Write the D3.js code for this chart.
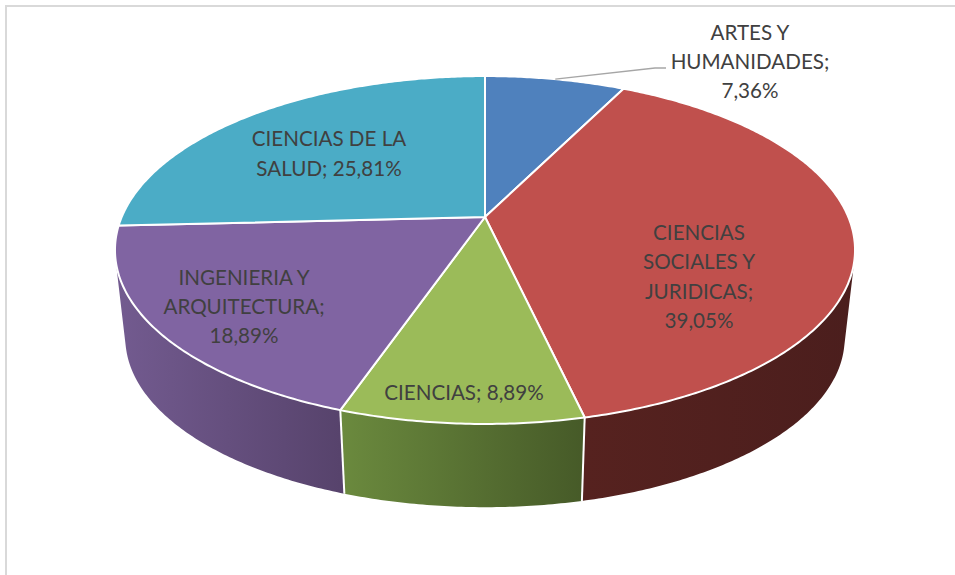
<!DOCTYPE html>
<html>
<head>
<meta charset="utf-8">
<script src="https://cdn.jsdelivr.net/npm/d3@7/dist/d3.min.js"></script>
<style>
html, body { margin: 0; padding: 0; background: #fff; }
svg { display: block; }
text { font-family: Lato, "Open Sans", sans-serif; font-size: 20.6px; fill: #404040; }
</style>
</head>
<body>
<svg id="svg" width="955" height="575"></svg>
<script>
var categories = ["ARTES Y HUMANIDADES", "CIENCIAS SOCIALES Y JURIDICAS", "CIENCIAS", "INGENIERIA Y ARQUITECTURA", "CIENCIAS DE LA SALUD"];
var values = [7.36, 39.05, 8.89, 18.89, 25.81];
var topColors = ["#4f81bd", "#c0504d", "#9bbb59", "#8064a2", "#4bacc6"];
var wallLeft = ["#3a5f8b", "#56221f", "#6b8a3e", "#735b90", "#357c8f"];
var wallRight = ["#2c4768", "#4b1e1d", "#465a28", "#57436c", "#2a6272"];
var labelLines = [
    ["ARTES Y", "HUMANIDADES;", "7,36%"],
    ["CIENCIAS", "SOCIALES Y", "JURIDICAS;", "39,05%"],
    ["CIENCIAS; 8,89%"],
    ["INGENIERIA Y", "ARQUITECTURA;", "18,89%"],
    ["CIENCIAS DE LA", "SALUD; 25,81%"]
];
var labelCenters = [[750, 62], [699, 277], [464, 393], [244, 307], [329, 154]];

var svg = d3.select("#svg");
var center = {x: 485, y: 217};
var A = 363.3, B = 167.7, k = 0.1897;   // perspective of the disc
var depth = 89, bottomScale = 0.972;
var lineGap = 29.4;
var wallOrder = [4, 0, 1, 3, 2];        // back to front

// angle 0 is at the top, clockwise. lower = false is the top face
var project = function (angle, lower) {
    var u = Math.sin(angle), v = -Math.cos(angle);
    var w = 1 - k * v;
    var s = lower ? bottomScale : 1;
    return [
        center.x + s * A * u / w,
        center.y + (lower ? depth : 0) + s * B * v / w
    ];
};

var arcPoints = function (a0, a1, lower) {
    var n = Math.max(2, Math.ceil((a1 - a0) / 0.01));
    return d3.range(n + 1).map(function (i) {
        return project(a0 + (a1 - a0) * i / n, lower);
    });
};

var pie = d3.pie().sort(null).value(function (d) { return d; });
var slices = pie(values);
var line = d3.line();

// chart frame, only top and left are visible in the picture
svg.append("path")
    .attr("d", "M6,575V6H955")
    .attr("fill", "none")
    .attr("stroke", "#d9d9d9")
    .attr("stroke-width", 2);

var defs = svg.append("defs");
slices.forEach(function (d, i) {
    var xs = arcPoints(d.startAngle, d.endAngle, false).map(function (p) { return p[0]; });
    var grad = defs.append("linearGradient")
        .attr("id", "wall" + i)
        .attr("gradientUnits", "userSpaceOnUse")
        .attr("x1", d3.min(xs)).attr("x2", d3.max(xs))
        .attr("y1", 0).attr("y2", 0);
    grad.append("stop").attr("offset", 0).attr("stop-color", wallLeft[i]);
    grad.append("stop").attr("offset", 1).attr("stop-color", wallRight[i]);
});

// walls: small strips joined in one path, all wound the same way so the
// tangent edge comes out right without seams
var wallGrp = svg.append("g");
wallOrder.forEach(function (i) {
    var d = slices[i];
    var upper = arcPoints(d.startAngle, d.endAngle, false);
    var lower = arcPoints(d.startAngle, d.endAngle, true);
    var path = "";
    d3.range(upper.length - 1).forEach(function (j) {
        var quad = [upper[j], upper[j + 1], lower[j + 1], lower[j]];
        if (d3.polygonArea(quad) < 0) quad.reverse();
        path += line(quad) + "Z";
    });
    wallGrp.append("path")
        .attr("d", path)
        .attr("fill", "url(#wall" + i + ")")
        .attr("fill-rule", "nonzero");
});

// white edges between the walls
slices.forEach(function (d) {
    var p = project(d.startAngle, false), q = project(d.startAngle, true);
    if (p[1] > 230) {
        wallGrp.append("line")
            .attr("x1", p[0]).attr("y1", p[1])
            .attr("x2", q[0]).attr("y2", q[1])
            .attr("stroke", "#fff")
            .attr("stroke-width", 2);
    }
});

// top face
svg.append("g").selectAll("path")
    .data(slices)
    .enter()
    .append("path")
    .attr("d", function (d) {
        return line([[center.x, center.y]].concat(arcPoints(d.startAngle, d.endAngle, false))) + "Z";
    })
    .attr("fill", function (d, i) { return topColors[i]; })
    .attr("stroke", "#fff")
    .attr("stroke-width", 2)
    .attr("stroke-linejoin", "round");

// leader line of the first label
var anchor = project((slices[0].startAngle + slices[0].endAngle) / 2, false);
svg.append("path")
    .attr("d", line([anchor, [655, 68], [666, 68]]))
    .attr("fill", "none")
    .attr("stroke", "#a6a6a6")
    .attr("stroke-width", 1.3);

var labelGrp = svg.append("g");
labelLines.forEach(function (lines, i) {
    var y0 = labelCenters[i][1] - (lines.length - 1) * lineGap / 2 + 7;
    lines.forEach(function (txt, j) {
        labelGrp.append("text")
            .attr("x", labelCenters[i][0])
            .attr("y", y0 + j * lineGap)
            .attr("text-anchor", "middle")
            .text(txt);
    });
});
</script>
</body>
</html>
